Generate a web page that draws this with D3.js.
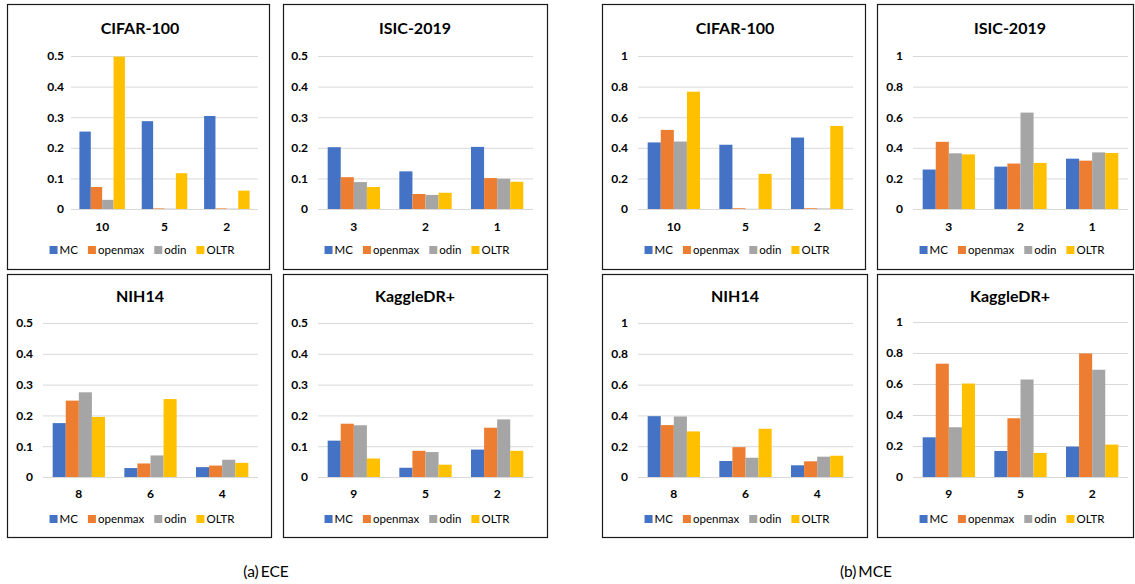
<!DOCTYPE html>
<html>
<head>
<meta charset="utf-8">
<script src="https://cdn.jsdelivr.net/npm/d3@7"></script>
<style>
  html, body { margin: 0; padding: 0; background: #ffffff; }
  svg { display: block; }
  text { font-family: Lato, "Open Sans", sans-serif; fill: #000; }
</style>
</head>
<body>
<svg id="fig" width="1135" height="584"></svg>
<script>
// Series shown in every panel
const seriesNames = ["MC", "openmax", "odin", "OLTR"];
const seriesColors = ["#4472C4", "#ED7D31", "#A5A5A5", "#FFC000"];

// Category labels per dataset
const cifarCats = ["10", "5", "2"];
const isicCats = ["3", "2", "1"];
const nihCats = ["8", "6", "4"];
const kaggleCats = ["9", "5", "2"];

// Tick labels
const eceTicks = [0, 0.1, 0.2, 0.3, 0.4, 0.5];
const mceTicks = [0, 0.2, 0.4, 0.6, 0.8, 1];

// ECE values: one row per category, columns follow seriesNames
const eceCifar = [[0.253, 0.072, 0.030, 0.498], [0.287, 0.002, 0.001, 0.117], [0.304, 0.002, 0.001, 0.060]];
const eceIsic = [[0.202, 0.104, 0.088, 0.072], [0.123, 0.049, 0.046, 0.053], [0.203, 0.101, 0.099, 0.089]];
const eceNih = [[0.175, 0.248, 0.275, 0.195], [0.029, 0.044, 0.070, 0.253], [0.032, 0.037, 0.056, 0.046]];
const eceKaggle = [[0.118, 0.173, 0.168, 0.060], [0.030, 0.085, 0.081, 0.040], [0.089, 0.160, 0.187, 0.085]];

// MCE values
const mceCifar = [[0.435, 0.517, 0.441, 0.767], [0.420, 0.005, 0.001, 0.230], [0.467, 0.005, 0.003, 0.543]];
const mceIsic = [[0.258, 0.439, 0.364, 0.357], [0.277, 0.297, 0.630, 0.301], [0.329, 0.316, 0.370, 0.366]];
const mceNih = [[0.395, 0.337, 0.393, 0.296], [0.104, 0.194, 0.125, 0.313], [0.076, 0.102, 0.132, 0.138]];
const mceKaggle = [[0.256, 0.731, 0.321, 0.603], [0.168, 0.379, 0.629, 0.155], [0.196, 0.797, 0.692, 0.209]];

// Captions
const captions = [{ text: "(a)\u2009ECE", x: 266 }, { text: "(b)\u2009MCE", x: 866 }];

// Panel arrangement: frame box, plot extent, title/legend centre
const panels = [
  { title: "CIFAR-100", cats: cifarCats, values: eceCifar, ticks: eceTicks, max: 0.5,
    box: [7, 4, 262, 265], px: [71, 258], py: [56, 209], cx: 140, row: 0, tickGap: 7 },
  { title: "ISIC-2019", cats: isicCats, values: eceIsic, ticks: eceTicks, max: 0.5,
    box: [283, 4, 264, 265], px: [318, 533], py: [56, 209], cx: 415, row: 0, tickGap: 10 },
  { title: "NIH14", cats: nihCats, values: eceNih, ticks: eceTicks, max: 0.5,
    box: [7, 274, 264, 263], px: [43, 258], py: [323, 477], cx: 140, row: 1, tickGap: 10 },
  { title: "KaggleDR+", cats: kaggleCats, values: eceKaggle, ticks: eceTicks, max: 0.5,
    box: [283, 274, 264, 263], px: [318, 533], py: [323, 477], cx: 415, row: 1, tickGap: 10 },
  { title: "CIFAR-100", cats: cifarCats, values: mceCifar, ticks: mceTicks, max: 1,
    box: [602, 4, 263, 265], px: [638, 853], py: [56, 209], cx: 735, row: 0, tickGap: 10 },
  { title: "ISIC-2019", cats: isicCats, values: mceIsic, ticks: mceTicks, max: 1,
    box: [877, 4, 256, 265], px: [913, 1128], py: [56, 209], cx: 1010, row: 0, tickGap: 10 },
  { title: "NIH14", cats: nihCats, values: mceNih, ticks: mceTicks, max: 1,
    box: [602, 274, 265, 263], px: [638, 853], py: [323, 477], cx: 735, row: 1, tickGap: 10 },
  { title: "KaggleDR+", cats: kaggleCats, values: mceKaggle, ticks: mceTicks, max: 1,
    box: [877, 274, 256, 263], px: [913, 1128], py: [322, 477], cx: 1010, row: 1, tickGap: 10 }
];

const rowText = [
  { titleY: 34, catY: 231, legendY: 250 },
  { titleY: 302, catY: 498, legendY: 519 }
];

const svg = d3.select("#fig");

panels.forEach(p => {
  const g = svg.append("g");
  const rt = rowText[p.row];

  // frame
  g.append("rect")
    .attr("x", p.box[0] + 0.5).attr("y", p.box[1] + 0.5)
    .attr("width", p.box[2]).attr("height", p.box[3])
    .attr("fill", "none").attr("stroke", "#1a1a1a").attr("stroke-width", 1.2);

  const x = d3.scaleBand().domain(p.cats).range(p.px).paddingInner(0.27).paddingOuter(0.135);
  const xs = d3.scaleBand().domain(seriesNames).range([0, x.bandwidth()]).padding(0);
  const y = d3.scaleLinear().domain([0, p.max]).range([p.py[1], p.py[0]]);

  // gridlines + tick labels through a left axis
  const yAxis = d3.axisLeft(y).tickValues(p.ticks)
    .tickSize(-(p.px[1] - p.px[0])).tickPadding(p.tickGap)
    .tickFormat(d => d3.format("~g")(d));
  const ag = g.append("g").attr("transform", `translate(${p.px[0]},0)`).call(yAxis);
  ag.select(".domain").remove();
  ag.selectAll(".tick line").attr("stroke", "#D9D9D9").attr("stroke-width", 1);
  ag.selectAll(".tick text")
    .style("font-family", "Lato, sans-serif").style("font-weight", "700")
    .style("font-size", "12px").attr("fill", "#000");

  // bars
  p.cats.forEach((c, ci) => {
    g.append("g").attr("transform", `translate(${x(c)},0)`)
      .selectAll("rect").data(p.values[ci]).join("rect")
      .attr("x", (d, i) => xs(seriesNames[i]))
      .attr("width", xs.bandwidth())
      .attr("y", d => y(d))
      .attr("height", d => y(0) - y(d))
      .attr("fill", (d, i) => seriesColors[i]);
  });

  // category labels
  g.selectAll(".cat").data(p.cats).join("text")
    .attr("class", "cat")
    .attr("x", d => x(d) + x.bandwidth() / 2)
    .attr("y", rt.catY)
    .attr("text-anchor", "middle")
    .style("font-weight", "700").style("font-size", "12px")
    .text(d => d);

  // title
  g.append("text")
    .attr("x", p.cx).attr("y", rt.titleY)
    .attr("text-anchor", "middle")
    .style("font-weight", "700").style("font-size", "16px")
    .text(p.title);

  // legend, centred under the plot
  const lg = g.append("g");
  const sq = 8, txtGap = 2, itemGap = 10;
  let cursor = 0;
  seriesNames.forEach((name, i) => {
    lg.append("rect")
      .attr("x", cursor).attr("y", rt.legendY - sq / 2)
      .attr("width", sq).attr("height", sq)
      .attr("fill", seriesColors[i]);
    const t = lg.append("text")
      .attr("x", cursor + sq + txtGap).attr("y", rt.legendY + 4)
      .style("font-size", "11.5px").attr("fill", "#262626")
      .text(name);
    cursor += sq + txtGap + t.node().getComputedTextLength() + itemGap;
  });
  const total = cursor - itemGap;
  lg.attr("transform", `translate(${p.cx + 2 - total / 2},0)`);
});

// sub-figure captions
svg.selectAll(".caption").data(captions).join("text")
  .attr("class", "caption")
  .attr("x", d => d.x).attr("y", 577)
  .attr("text-anchor", "middle")
  .style("font-size", "15.5px")
  .text(d => d.text);
</script>
</body>
</html>
